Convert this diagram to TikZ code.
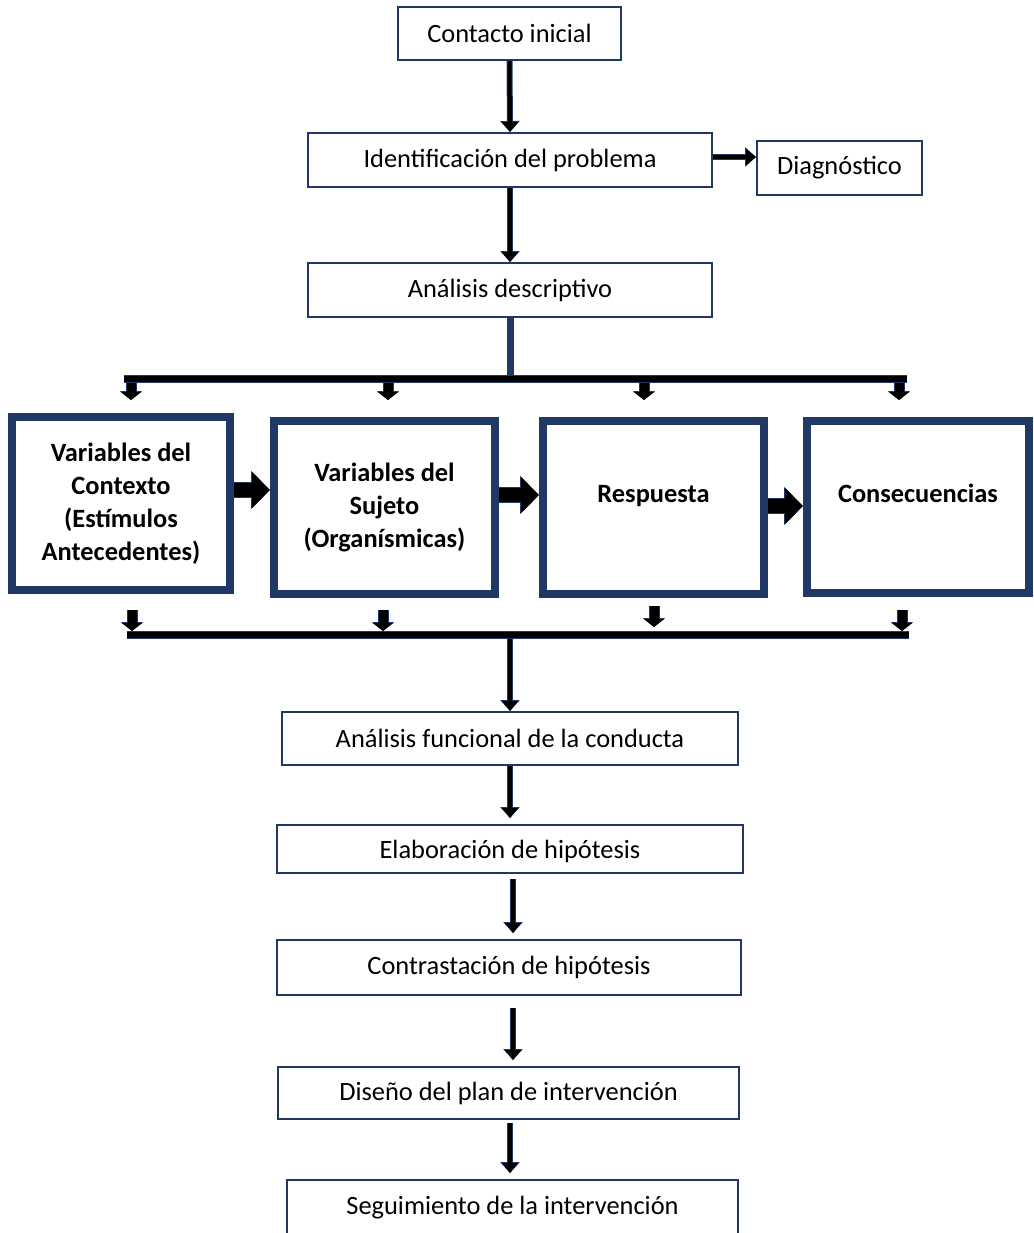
\documentclass[tikz,border=0pt]{standalone}
\usepackage{fontspec}
\setmainfont{Carlito}
\usetikzlibrary{arrows.meta,positioning}
\definecolor{navy}{HTML}{1F3864}
\tikzset{
  box/.style={draw=navy, line width=1pt, fill=white, inner sep=0pt,
    font=\fontsize{13.2pt}{16.5pt}\selectfont},
  varbox/.style={draw=navy, line width=4pt, fill=white, align=center, inner sep=0pt,
    minimum width=110.5pt, minimum height=86.5pt,
    font=\fontsize{13.2pt}{16.5pt}\selectfont\bfseries},
  flow/.style={line width=2pt, black, shorten >=3pt, -{Triangle[length=5pt,width=8pt]},
    preaction={draw=navy, line width=3pt, -{Triangle[length=5.5pt,width=9.5pt]}}},
  fat/.style={line width=7pt, black, -{Triangle[length=9pt,width=17.5pt]},
    preaction={draw=navy, line width=8pt, -{Triangle[length=9.5pt,width=18.5pt]}}},
  drop/.style={line width=4.5pt, black, -{Triangle[length=4pt,width=10pt]},
    preaction={draw=navy, line width=5.5pt, -{Triangle[length=4.5pt,width=11pt]}}},
  bus/.style={line width=3pt, black, preaction={draw=navy, line width=4pt}},
  stem/.style={navy, line width=3.5pt}
}
\begin{document}
\begin{tikzpicture}[x=0.5pt, y=-0.5pt]
  \useasboundingbox (0,0) rectangle (1034,1233);
  % upper part
  \node[box, minimum width=111.5pt, minimum height=26.5pt] (contacto) at (509.5,33.5) {Contacto inicial};
  \node[box, minimum width=202pt, minimum height=27pt] (ident) at (510,160) {Identificación del problema};
  \node[box, minimum width=82.5pt, minimum height=27pt] (diag) at (839.5,168) {Diagnóstico};
  \node[box, minimum width=202pt, minimum height=27pt] (descr) at (510,290) {Análisis descriptivo};
  \draw[flow, shorten >=0pt] (contacto.south) -- (ident.north);
  \draw[flow, shorten >=0pt] ([yshift=1.5pt]ident.east) -- ([yshift=1.5pt]ident.east -| diag.west);
  \draw[flow, shorten >=0pt] (ident.south) -- (descr.north);
  % the four variables
  \node[varbox, minimum width=109pt] (v1) at (121,503.5) {Variables del\\Contexto\\(Estímulos\\Antecedentes)};
  \node[varbox] (v2) at (384.5,507.5) {Variables del\\Sujeto\\(Organísmicas)};
  \node[varbox, text depth=14pt] (v3) at (653.5,507.5) {Respuesta};
  \node[varbox, minimum width=111pt, minimum height=86pt, text depth=14pt] (v4) at (918,507) {Consecuencias};
  \draw[fat] ([yshift=6.75pt]v1.east) -- ([yshift=6.75pt]v1.east -| v2.west);
  \draw[fat] ([yshift=6.25pt]v2.east) -- ([yshift=6.25pt]v2.east -| v3.west);
  \draw[fat] ([yshift=0.75pt]v3.east) -- ([yshift=0.75pt]v3.east -| v4.west);
  % top bus
  \coordinate (topL) at (124,379);
  \coordinate (topR) at (907,379);
  \draw[stem] (descr.south) -- (descr.south |- topL);
  \draw[drop] ([xshift=5pt]v1.north |- topL) -- ++(0,21);
  \draw[drop] ([xshift=1.75pt]v2.north |- topL) -- ++(0,21);
  \draw[drop] ([xshift=-4.75pt]v3.north |- topL) -- ++(0,21);
  \draw[drop] ([xshift=-9.5pt]v4.north |- topL) -- ++(0,21);
  \draw[bus] (topL) -- (topR);
  % bottom bus
  \coordinate (botL) at (127,635);
  \coordinate (botR) at (909,635);
  \coordinate (botT) at (0,631);
  \draw[drop] ([xshift=5.5pt,yshift=-8pt]v1.south) -- ([xshift=5.5pt]v1.south |- botT);
  \draw[drop] ([xshift=-0.75pt,yshift=-6pt]v2.south) -- ([xshift=-0.75pt]v2.south |- botT);
  \draw[drop] ([xshift=0.25pt,yshift=-4pt]v3.south) -- ([xshift=0.25pt,yshift=2pt]v3.south |- botT);
  \draw[drop] ([xshift=-8pt,yshift=-6.5pt]v4.south) -- ([xshift=-8pt]v4.south |- botT);
  % lower part
  \node[box, minimum width=228pt, minimum height=26.5pt] (funcional) at (510,738.5) {Análisis funcional de la conducta};
  \node[box, minimum width=233pt, minimum height=24pt, text depth=0pt] (elab) at (510,849) {Elaboración de hipótesis};
  \node[box, minimum width=232pt, minimum height=27.5pt] (contr) at (509,967.5) {Contrastación de hipótesis};
  \node[box, minimum width=230.5pt, minimum height=26pt] (diseno) at (508.5,1093) {Diseño del plan de intervención};
  \node[box, minimum width=225.5pt, minimum height=27.5pt] (segui) at (512.5,1207.5) {Seguimiento de la intervención};
  \draw[flow, shorten >=0pt] (funcional.north |- botL) -- (funcional.north);
  \draw[bus] (botL) -- (botR);
  \draw[flow] (funcional.south) -- (funcional.south |- elab.north);
  \draw[flow, shorten <=2.5pt] ([xshift=1.5pt]elab.south) -- ([xshift=1.5pt]elab.south |- contr.north);
  \draw[flow, shorten <=6pt] ([xshift=2pt]contr.south) -- ([xshift=2pt]contr.south |- diseno.north);
  \draw[flow, shorten <=1.5pt] ([xshift=0.75pt]diseno.south) -- ([xshift=0.75pt]diseno.south |- segui.north);
\end{tikzpicture}
\end{document}
